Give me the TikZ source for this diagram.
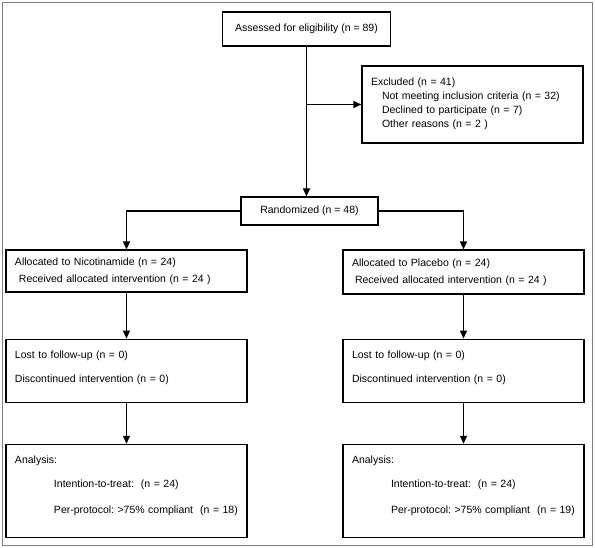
\documentclass[tikz,border=0pt]{standalone}
\usepackage{fontspec}
\setmainfont{Liberation Sans}
\usetikzlibrary{arrows.meta,positioning}
\newcommand{\lowpad}[1]{\rule[-#1]{0pt}{0pt}}

\begin{document}
\begin{tikzpicture}[x=1pt, y=-1pt,
  flow/.style={rectangle, draw=black, line width=1.2pt, inner xsep=9pt, inner ysep=2pt,
    align=left, font=\fontsize{10.5}{14}\selectfont\frenchspacing},
  ctr/.style={flow, align=center},
  arm/.style={flow, text width=223pt, minimum width=241pt},
  arr/.style={-{Triangle[length=8pt,width=7pt]}, line width=1.2pt}]
\useasboundingbox (0,0) rectangle (595,547);
\draw[gray, line width=1pt] (2.5,2.5) rectangle (592,545);
\node[ctr, minimum width=168pt, minimum height=34pt] (assess) at (306.5,29) {Assessed for eligibility (n = 89)};
\node[flow, text width=203pt, minimum height=77pt] (excl) at (472.5,104.5) {Excluded (n = 41)\\
  \hspace*{11pt}Not meeting inclusion criteria (n = 32)\\
  \hspace*{11pt}Declined to participate (n = 7)\\
  \hspace*{11pt}Other reasons (n = 2 )\lowpad{3pt}};
\node[ctr, minimum width=137pt, minimum height=28pt] (rand) at (309.5,211) {Randomized (n = 48)};
% two arms
\node[arm, minimum height=42pt] (nico) at (126.5,271) {Allocated to Nicotinamide (n = 24)\\[3pt]
  \hspace*{4pt}Received allocated intervention (n = 24 )};
\node[arm, minimum height=44pt] (plac) at (463.5,272) {Allocated to Placebo (n = 24)\\[3pt]
  \hspace*{3pt}Received allocated intervention (n = 24 )};
\node[arm, minimum height=63pt, below=46pt of nico] (lostL) {Lost to follow-up (n = 0)\\[10pt]
  Discontinued intervention (n = 0)\lowpad{9pt}};
\node[arm, minimum height=63pt, below=44pt of plac] (lostR) {Lost to follow-up (n = 0)\\[10pt]
  Discontinued intervention (n = 0)\lowpad{9pt}};
\node[arm, minimum height=93pt, below=41pt of lostL] (anaL) {Analysis:\\[10pt]
  \hspace*{39pt}Intention-to-treat:\ \ (n = 24)\\[12pt]
  \hspace*{39pt}\mbox{Per-protocol: >75\% compliant\ \ (n = 18)}\lowpad{13pt}};
\node[arm, minimum height=93pt, below=41pt of lostR] (anaR) {Analysis:\\[10pt]
  \hspace*{39pt}Intention-to-treat:\ \ (n = 24)\\[12pt]
  \hspace*{39pt}\mbox{Per-protocol: >75\% compliant\ \ (n = 19)}\lowpad{13pt}};
% connectors
\draw[arr] (assess.south) -- (assess.south |- rand.north);
\draw[arr] (assess.south |- excl.west) -- (excl.west);
\draw[arr] (rand.west) -| (nico.north);
\draw[arr] (rand.east) -| (plac.north);
\foreach \a/\b in {nico/lostL, lostL/anaL, plac/lostR, lostR/anaR}
  \draw[arr] (\a) -- (\b);
\end{tikzpicture}
\end{document}
